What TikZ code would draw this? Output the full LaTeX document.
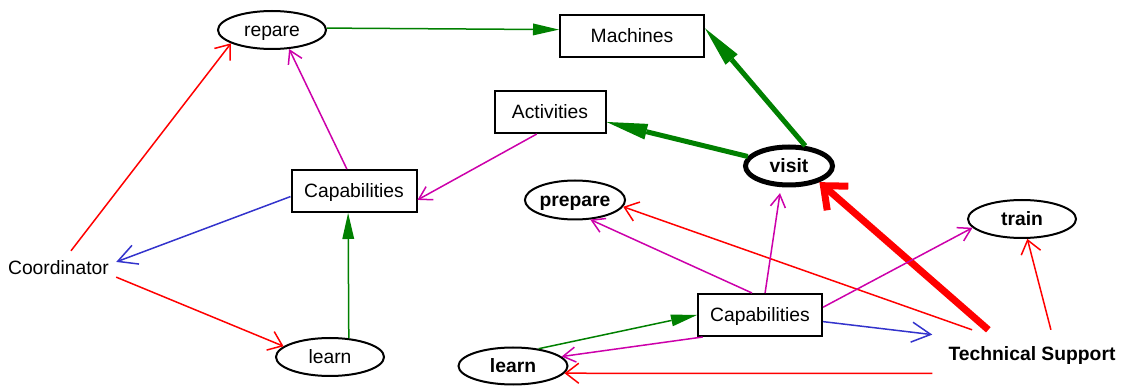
\documentclass[tikz,border=0pt]{standalone}
\usepackage{fontspec}
\setmainfont{Liberation Sans}
\usetikzlibrary{shapes.geometric,arrows.meta}
\definecolor{egreen}{RGB}{0,128,0}
\definecolor{ered}{RGB}{255,0,0}
\definecolor{emag}{RGB}{204,0,170}
\definecolor{eblue}{RGB}{51,51,204}
\newcommand\lblfont{\fontsize{19.3pt}{23pt}\selectfont}

\begin{document}
\begin{tikzpicture}[x=1pt,y=-1pt,
  every node/.style={font=\lblfont, text height=13.8pt, text depth=0pt, inner sep=0pt},
  bold/.style={font=\lblfont\bfseries},
  oval/.style={ellipse, draw, line width=2pt},
  box/.style={rectangle, draw, line width=2pt},
  plain/.style={rectangle},
  wire/.style={line width=1.5pt},
  redge/.style={wire, ered, -{Straight Barb[length=13pt,width=20pt]}},
  medge/.style={wire, emag, -{Straight Barb[length=12.5pt,width=15pt]}},
  bedge/.style={wire, eblue, -{Straight Barb[length=19pt,width=20pt]}},
  gedge/.style={wire, egreen, -{Triangle[length=26pt,width=12pt,line width=0pt]}},
  gthick/.style={line width=5pt, egreen, -{Triangle[length=41pt,width=16pt,line width=0pt]}},
  rthick/.style={line width=7pt, ered, -{Straight Barb[length=19pt,width=32pt]}},
]
\useasboundingbox (0,0) rectangle (1125,387);

% nodes
\node[oval, minimum width=108pt, minimum height=38pt] (repare) at (272,30) {repare};
\node[box, minimum width=144pt, minimum height=42pt] (machines) at (632,36) {Machines};
\node[box, minimum width=111pt, minimum height=42pt] (activities) at (550,112) {Activities};
\node[oval, bold, line width=5pt, minimum width=87pt, minimum height=38pt] (visit) at (789,166) {visit};
\node[oval, bold, minimum width=108pt, minimum height=38pt] (train) at (1022,219) {train};
\node[plain, bold, minimum width=199pt, minimum height=48pt] (support) at (1032,354) {Technical Support};
\node[box, minimum width=124pt, minimum height=42pt] (capR) at (760,315) {Capabilities};
\node[oval, bold, minimum width=89pt, minimum height=39pt] (prepare) at (575,200) {prepare};
\node[oval, bold, minimum width=109pt, minimum height=37pt] (learnR) at (513,366) {learn};
\node[box, minimum width=125pt, minimum height=42pt] (capL) at (354,191) {Capabilities};
\node[plain, minimum width=115pt, minimum height=34pt] (coord) at (58.5,268) {Coordinator};
\node[oval, minimum width=108pt, minimum height=38pt] (learnL) at (330,357) {learn};

% connectors
\draw[gedge] (repare.2) -- (machines.175);
\draw[gthick] (visit.51) -- (machines.6);
\draw[gthick] (visit.167) -- (activities.-10);
\draw[medge] (activities.239) -- (capL.-8);
\draw[medge] (capL.108) -- (repare.-48);
\draw[bedge] (capL.185) -- (coord.6);
\draw[redge] (coord.54) -- (repare.198);
\draw[redge] (coord.-9) -- (learnL.167);
\draw[gedge] (learnL.45) -- (capL.255);
\draw[rthick] (support.151) -- (visit.-28);
\draw[redge] (support.52) -- (train.-75);
\draw[redge] (support.158) -- (prepare.-8);
\draw[redge] (support.191) -- (learnR.-8);
\draw[medge, shorten >=6pt] (capR.77) -- (visit.249);
\draw[medge] (capR.110) -- (prepare.-52);
\draw[medge] (capR.7) -- (train.190);
\draw[bedge] (capR.-6) -- (support.169);
\draw[medge] (capR.201) -- (learnR.11);
\draw[gedge] (learnR.34) -- (capR.west);
\end{tikzpicture}
\end{document}
